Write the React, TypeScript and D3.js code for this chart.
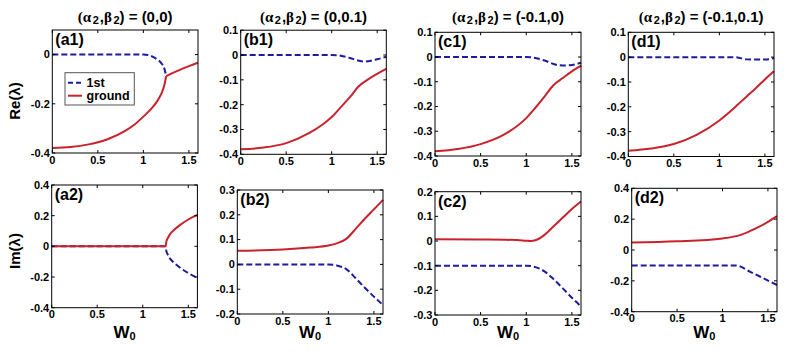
import React from 'react';
import * as d3 from 'd3';

// ---------- data ----------
const W_TICKS = [0, 0.5, 1, 1.5];
const W_DOMAIN: [number, number] = [0, 1.6];

const titles = ['(0,0)', '(0,0.1)', '(-0.1,0)', '(-0.1,0.1)'];

// (a1) Re
const a1FirstW = [0, 0.5, 1.0, 1.05, 1.1, 1.15, 1.2, 1.23, 1.25];
const a1FirstV = [0, 0, 0, -0.002, -0.008, -0.019, -0.036, -0.056, -0.088];
const a1GroundW = [0, 0.2, 0.4, 0.6, 0.8, 0.9, 1.0, 1.1, 1.15, 1.2, 1.23, 1.25];
const a1GroundV = [-0.38, -0.376, -0.365, -0.345, -0.31, -0.285, -0.252, -0.215, -0.19, -0.157, -0.125, -0.088];
const a1MergedW = [1.25, 1.3, 1.4, 1.5, 1.6];
const a1MergedV = [-0.088, -0.078, -0.062, -0.047, -0.033];
// (a2) Im
const a2FirstW = [0, 0.5, 1.0, 1.25, 1.26, 1.27, 1.3, 1.35, 1.4, 1.5, 1.6];
const a2FirstV = [0, 0, 0, 0, -0.034, -0.048, -0.08, -0.11, -0.135, -0.175, -0.205];
const a2GroundW = [0, 0.5, 1.0, 1.25, 1.26, 1.27, 1.3, 1.35, 1.4, 1.5, 1.6];
const a2GroundV = [0, 0, 0, 0, 0.034, 0.048, 0.08, 0.11, 0.135, 0.175, 0.205];
// (b1)
const b1FirstW = [0, 0.5, 1.0, 1.05, 1.1, 1.2, 1.3, 1.35, 1.4, 1.5, 1.6];
const b1FirstV = [0, 0, 0, -0.001, -0.003, -0.012, -0.023, -0.026, -0.025, -0.017, -0.007];
const b1GroundW = [0, 0.25, 0.5, 0.75, 0.9, 1.0, 1.1, 1.2, 1.3, 1.4, 1.5, 1.6];
const b1GroundV = [-0.38, -0.373, -0.355, -0.315, -0.28, -0.25, -0.21, -0.17, -0.125, -0.098, -0.076, -0.056];
// (b2)
const b2FirstW = [0, 0.5, 1.0, 1.1, 1.2, 1.3, 1.4, 1.5, 1.6];
const b2FirstV = [0, 0, 0, -0.005, -0.02, -0.056, -0.094, -0.13, -0.164];
const b2GroundW = [0, 0.5, 0.8, 1.0, 1.1, 1.2, 1.3, 1.4, 1.5, 1.6];
const b2GroundV = [0.055, 0.06, 0.068, 0.076, 0.086, 0.104, 0.143, 0.184, 0.222, 0.26];
// (c1)
const c1FirstW = [0, 0.5, 1.0, 1.05, 1.1, 1.2, 1.3, 1.35, 1.4, 1.5, 1.6];
const c1FirstV = [0, 0, 0, -0.001, -0.004, -0.014, -0.028, -0.033, -0.034, -0.032, -0.023];
const c1GroundW = [0, 0.25, 0.5, 0.75, 1.0, 1.1, 1.2, 1.3, 1.4, 1.5, 1.6];
const c1GroundV = [-0.381, -0.372, -0.352, -0.315, -0.247, -0.205, -0.16, -0.113, -0.085, -0.058, -0.035];
// (c2)
const c2FirstW = [0, 0.5, 1.0, 1.1, 1.2, 1.3, 1.4, 1.5, 1.6];
const c2FirstV = [-0.1, -0.1, -0.1, -0.106, -0.123, -0.155, -0.192, -0.23, -0.265];
const c2GroundW = [0, 0.5, 0.9, 1.0, 1.05, 1.1, 1.2, 1.3, 1.4, 1.5, 1.6];
const c2GroundV = [0.007, 0.006, 0.004, 0.001, 0.0, 0.003, 0.025, 0.06, 0.095, 0.13, 0.16];
// (d1)
const d1FirstW = [0, 0.5, 1.0, 1.2, 1.25, 1.3, 1.4, 1.5, 1.55, 1.6];
const d1FirstV = [0, 0, 0, -0.001, -0.006, -0.009, -0.01, -0.01, -0.008, -0.004];
const d1GroundW = [0, 0.25, 0.5, 0.75, 1.0, 1.1, 1.2, 1.3, 1.4, 1.5, 1.6];
const d1GroundV = [-0.377, -0.368, -0.35, -0.313, -0.255, -0.225, -0.192, -0.158, -0.125, -0.09, -0.057];
// (d2)
const d2FirstW = [0, 0.5, 1.0, 1.15, 1.3, 1.45, 1.6];
const d2FirstV = [-0.1, -0.1, -0.1, -0.1, -0.14, -0.183, -0.227];
const d2GroundW = [0, 0.5, 1.0, 1.2, 1.3, 1.4, 1.5, 1.6];
const d2GroundV = [0.048, 0.056, 0.075, 0.098, 0.122, 0.15, 0.183, 0.22];

const ticksReA = [-0.4, -0.2, 0];
const ticksImA = [-0.4, -0.2, 0, 0.2, 0.4];
const ticksRe = [-0.4, -0.3, -0.2, -0.1, 0, 0.1];
const ticksImB = [-0.2, -0.1, 0, 0.1, 0.2, 0.3];
const ticksImC = [-0.3, -0.2, -0.1, 0, 0.1, 0.2];
const ticksImD = [-0.4, -0.2, 0, 0.2, 0.4];

// ---------- style / layout ----------
const BLUE = '#1c1c9e';
const RED = '#c8232c';
const FONT = "'Liberation Sans', Arial, sans-serif";

type S = { w: number[]; v: number[]; kind: 'first' | 'ground' };
type P = {
  label: string;
  box: [number, number, number, number];
  yDomain: [number, number];
  yTicks: number[];
  series: S[];
  row: number;
  col: number;
};

const panels: P[] = [
  { label: '(a1)', row: 0, col: 0, box: [52.3, 30, 198, 153], yDomain: [-0.4, 0.1], yTicks: ticksReA,
    series: [{ w: a1FirstW, v: a1FirstV, kind: 'first' }, { w: a1GroundW, v: a1GroundV, kind: 'ground' }, { w: a1MergedW, v: a1MergedV, kind: 'ground' }] },
  { label: '(a2)', row: 1, col: 0, box: [51.7, 185, 197.4, 307.7], yDomain: [-0.4, 0.4], yTicks: ticksImA,
    series: [{ w: a2FirstW, v: a2FirstV, kind: 'first' }, { w: a2GroundW, v: a2GroundV, kind: 'ground' }] },
  { label: '(b1)', row: 0, col: 1, box: [240.7, 30.2, 386.3, 154.3], yDomain: [-0.4, 0.1], yTicks: ticksRe,
    series: [{ w: b1FirstW, v: b1FirstV, kind: 'first' }, { w: b1GroundW, v: b1GroundV, kind: 'ground' }] },
  { label: '(b2)', row: 1, col: 1, box: [237.3, 190, 383, 314], yDomain: [-0.2, 0.3], yTicks: ticksImB,
    series: [{ w: b2FirstW, v: b2FirstV, kind: 'first' }, { w: b2GroundW, v: b2GroundV, kind: 'ground' }] },
  { label: '(c1)', row: 0, col: 2, box: [435, 32.3, 581, 156], yDomain: [-0.4, 0.1], yTicks: ticksRe,
    series: [{ w: c1FirstW, v: c1FirstV, kind: 'first' }, { w: c1GroundW, v: c1GroundV, kind: 'ground' }] },
  { label: '(c2)', row: 1, col: 2, box: [435, 191.7, 581, 315], yDomain: [-0.3, 0.2], yTicks: ticksImC,
    series: [{ w: c2FirstW, v: c2FirstV, kind: 'first' }, { w: c2GroundW, v: c2GroundV, kind: 'ground' }] },
  { label: '(d1)', row: 0, col: 3, box: [628.3, 32.3, 774, 156.5], yDomain: [-0.4, 0.1], yTicks: ticksRe,
    series: [{ w: d1FirstW, v: d1FirstV, kind: 'first' }, { w: d1GroundW, v: d1GroundV, kind: 'ground' }] },
  { label: '(d2)', row: 1, col: 3, box: [631.7, 188.3, 777, 311.7], yDomain: [-0.4, 0.4], yTicks: ticksImD,
    series: [{ w: d2FirstW, v: d2FirstV, kind: 'first' }, { w: d2GroundW, v: d2GroundV, kind: 'ground' }] },
];

function Panel({ p }: { p: P }) {
  const [x0, y0, x1, y1] = p.box;
  const x = d3.scaleLinear().domain(W_DOMAIN).range([x0, x1]);
  const y = d3.scaleLinear().domain(p.yDomain).range([y1, y0]);
  const line = (s: S) =>
    d3.line<number>().x((_, i) => x(s.w[i])).y((_, i) => y(s.v[i])).curve(d3.curveMonotoneX)(s.v) || '';
  const ordered = [...p.series.filter(s => s.kind === 'first'), ...p.series.filter(s => s.kind === 'ground')];
  const tl = 3;
  return (
    <g>
      {ordered.map((s, i) => (
        <path key={i} d={line(s)} fill="none" stroke={s.kind === 'first' ? BLUE : RED} strokeWidth={2}
          strokeDasharray={s.kind === 'first' ? '6,3' : undefined} />
      ))}
      <rect x={x0} y={y0} width={x1 - x0} height={y1 - y0} fill="none" stroke="#000" strokeWidth={1} />
      {W_TICKS.map(t => (
        <g key={'x' + t}>
          <line x1={x(t)} x2={x(t)} y1={y1} y2={y1 - tl} stroke="#000" />
          <line x1={x(t)} x2={x(t)} y1={y0} y2={y0 + tl} stroke="#000" />
          <text x={x(t)} y={y1 + 10.5} textAnchor="middle" fontSize={11} fontWeight="bold" fontFamily={FONT}>{String(t)}</text>
        </g>
      ))}
      {p.yTicks.map(t => (
        <g key={'y' + t}>
          <line x1={x0} x2={x0 + tl} y1={y(t)} y2={y(t)} stroke="#000" />
          <line x1={x1} x2={x1 - tl} y1={y(t)} y2={y(t)} stroke="#000" />
          <text x={x0 - 2.5} y={y(t)} dy="0.35em" textAnchor="end" fontSize={11} fontWeight="bold" fontFamily={FONT}>{String(t)}</text>
        </g>
      ))}
      <text x={x0 + 3} y={y0 + 15} fontSize={16} fontWeight="bold" fontFamily={FONT}>{p.label}</text>
      {p.row === 0 && (
        <text x={(x0 + x1) / 2} y={22} textAnchor="middle" fontSize={15} fontWeight="bold" fontFamily={FONT}>
          <tspan fontFamily="'Liberation Serif', serif">(α</tspan>
          <tspan fontSize={11} dx={1.5} dy={2}>2</tspan>
          <tspan dx={1} dy={-2}>,</tspan>
          <tspan fontFamily="'Liberation Serif', serif">β</tspan>
          <tspan fontSize={11} dx={1.5} dy={2}>2</tspan>
          <tspan dy={-2}>) = {titles[p.col]}</tspan>
        </text>
      )}
      {p.row === 1 && (
        <text x={(x0 + x1) / 2} y={338} textAnchor="middle" fontSize={17} fontWeight="bold" fontFamily={FONT}>
          W<tspan fontSize={11} dy={2}>0</tspan>
        </text>
      )}
    </g>
  );
}

export default function App() {
  return (
    <svg width={795} height={354} style={{ display: 'block', position: 'absolute', left: 0, top: 0, background: '#fff' }}>
      <rect width={795} height={354} fill="#fff" />
      {panels.map(p => <Panel key={p.label} p={p} />)}
      <text transform="translate(20,101) rotate(-90)" textAnchor="middle" fontSize={15} fontWeight="bold" fontFamily={FONT}>Re(λ)</text>
      <text transform="translate(20,251) rotate(-90)" textAnchor="middle" fontSize={15} fontWeight="bold" fontFamily={FONT}>Im(λ)</text>
      <g>
        <rect x={65} y={72.7} width={69.3} height={32.3} fill="#fff" stroke="#555" strokeWidth={1} />
        <line x1={68} x2={82} y1={82.7} y2={82.7} stroke={BLUE} strokeWidth={2} strokeDasharray="5,3" />
        <line x1={68} x2={82} y1={95.7} y2={95.7} stroke={RED} strokeWidth={2} />
        <text x={86.5} y={82.7} dy="0.35em" fontSize={12.5} fontWeight="bold" fontFamily={FONT}>1st</text>
        <text x={86.5} y={95.7} dy="0.35em" fontSize={12.5} fontWeight="bold" fontFamily={FONT}>ground</text>
      </g>
    </svg>
  );
}
